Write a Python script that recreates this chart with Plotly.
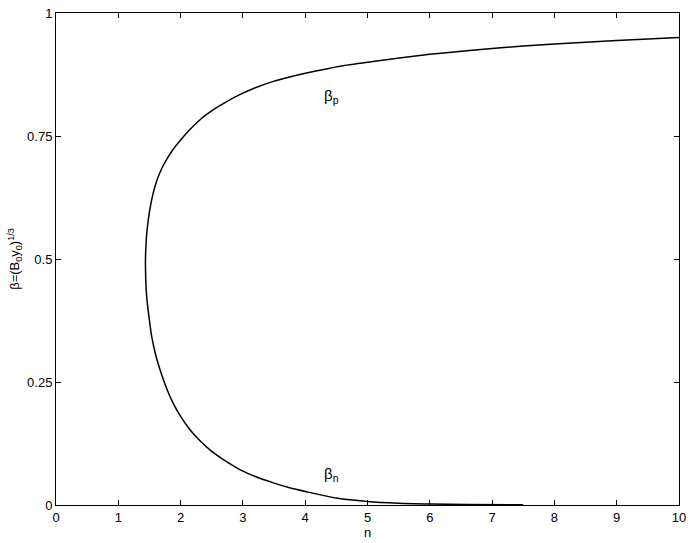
import plotly.graph_objects as go

# Curve: upper branch (beta_p) from n=10 down to the turning point, then lower branch (beta_n)
n_vals = [10.0, 9.0, 8.0, 7.0, 6.0, 5.0, 4.56, 4.02, 3.75, 3.49, 3.2, 2.95, 2.74, 2.52, 2.33,
          2.15, 2.02, 1.875, 1.765, 1.69, 1.62, 1.56, 1.505, 1.475, 1.455, 1.445, 1.438,
          1.436, 1.438, 1.443, 1.452, 1.465, 1.49, 1.535, 1.60, 1.67, 1.77, 1.88, 2.0, 2.15,
          2.3, 2.47, 2.7, 2.95, 3.2, 3.49, 3.75, 4.02, 4.5, 5.0, 5.5, 6.0, 6.6, 7.5]
beta_vals = [0.950, 0.944, 0.937, 0.928, 0.916, 0.900, 0.892, 0.878, 0.870, 0.861, 0.848,
             0.834, 0.820, 0.803, 0.785, 0.763, 0.745, 0.722, 0.700, 0.682, 0.660, 0.634,
             0.600, 0.573, 0.550, 0.530, 0.510, 0.490, 0.470, 0.450, 0.430, 0.411, 0.385,
             0.343, 0.305, 0.275, 0.239, 0.207, 0.180, 0.153, 0.132, 0.112, 0.091, 0.072,
             0.058, 0.045, 0.035, 0.027, 0.014, 0.007, 0.0035, 0.002, 0.001, 0.0003]

x_ticks = [0, 1, 2, 3, 4, 5, 6, 7, 8, 9, 10]
y_ticks = [0, 0.25, 0.5, 0.75, 1]
y_tick_labels = ["0", "0.25", "0.5", "0.75", "1"]

labels_text = ["β<sub>p</sub>", "β<sub>n</sub>"]
labels_x = [4.43, 4.43]
labels_y = [0.83, 0.063]

FONT = "Liberation Sans, Arial, Helvetica, sans-serif"

fig = go.Figure()
fig.add_trace(go.Scatter(x=n_vals, y=beta_vals, mode="lines",
                         line=dict(color="black", width=1.5, shape="spline", smoothing=0.6),
                         showlegend=False, hoverinfo="skip"))

for t, xx, yy in zip(labels_text, labels_x, labels_y):
    fig.add_annotation(x=xx, y=yy, text=t, showarrow=False,
                       font=dict(family=FONT, size=15, color="black"))

axis_common = dict(showgrid=False, zeroline=False, showline=True, linecolor="black",
                   linewidth=1, mirror="ticks", ticks="inside", ticklen=5, tickwidth=1,
                   tickcolor="black", automargin=False,
                   tickfont=dict(family=FONT, size=13, color="black"))

fig.update_xaxes(range=[0, 10], tickvals=x_ticks, title=dict(text="n", standoff=2,
                 font=dict(family=FONT, size=13, color="black")), **axis_common)
fig.update_yaxes(range=[0, 1], tickvals=y_ticks, ticktext=y_tick_labels,
                 title=dict(text="β=(B<sub>0</sub>y<sub>0</sub>)<sup>1/3</sup>", standoff=4,
                            font=dict(family=FONT, size=13, color="black")), **axis_common)

fig.update_layout(width=692, height=543, plot_bgcolor="white", paper_bgcolor="white",
                  margin=dict(l=56, r=13, t=13, b=38), font=dict(family=FONT, color="black"))

fig.write_html("out.html", config={"displayModeBar": False},
               post_script="document.body.style.margin='0';document.body.style.padding='0';"
                           "document.body.style.overflow='hidden';")
